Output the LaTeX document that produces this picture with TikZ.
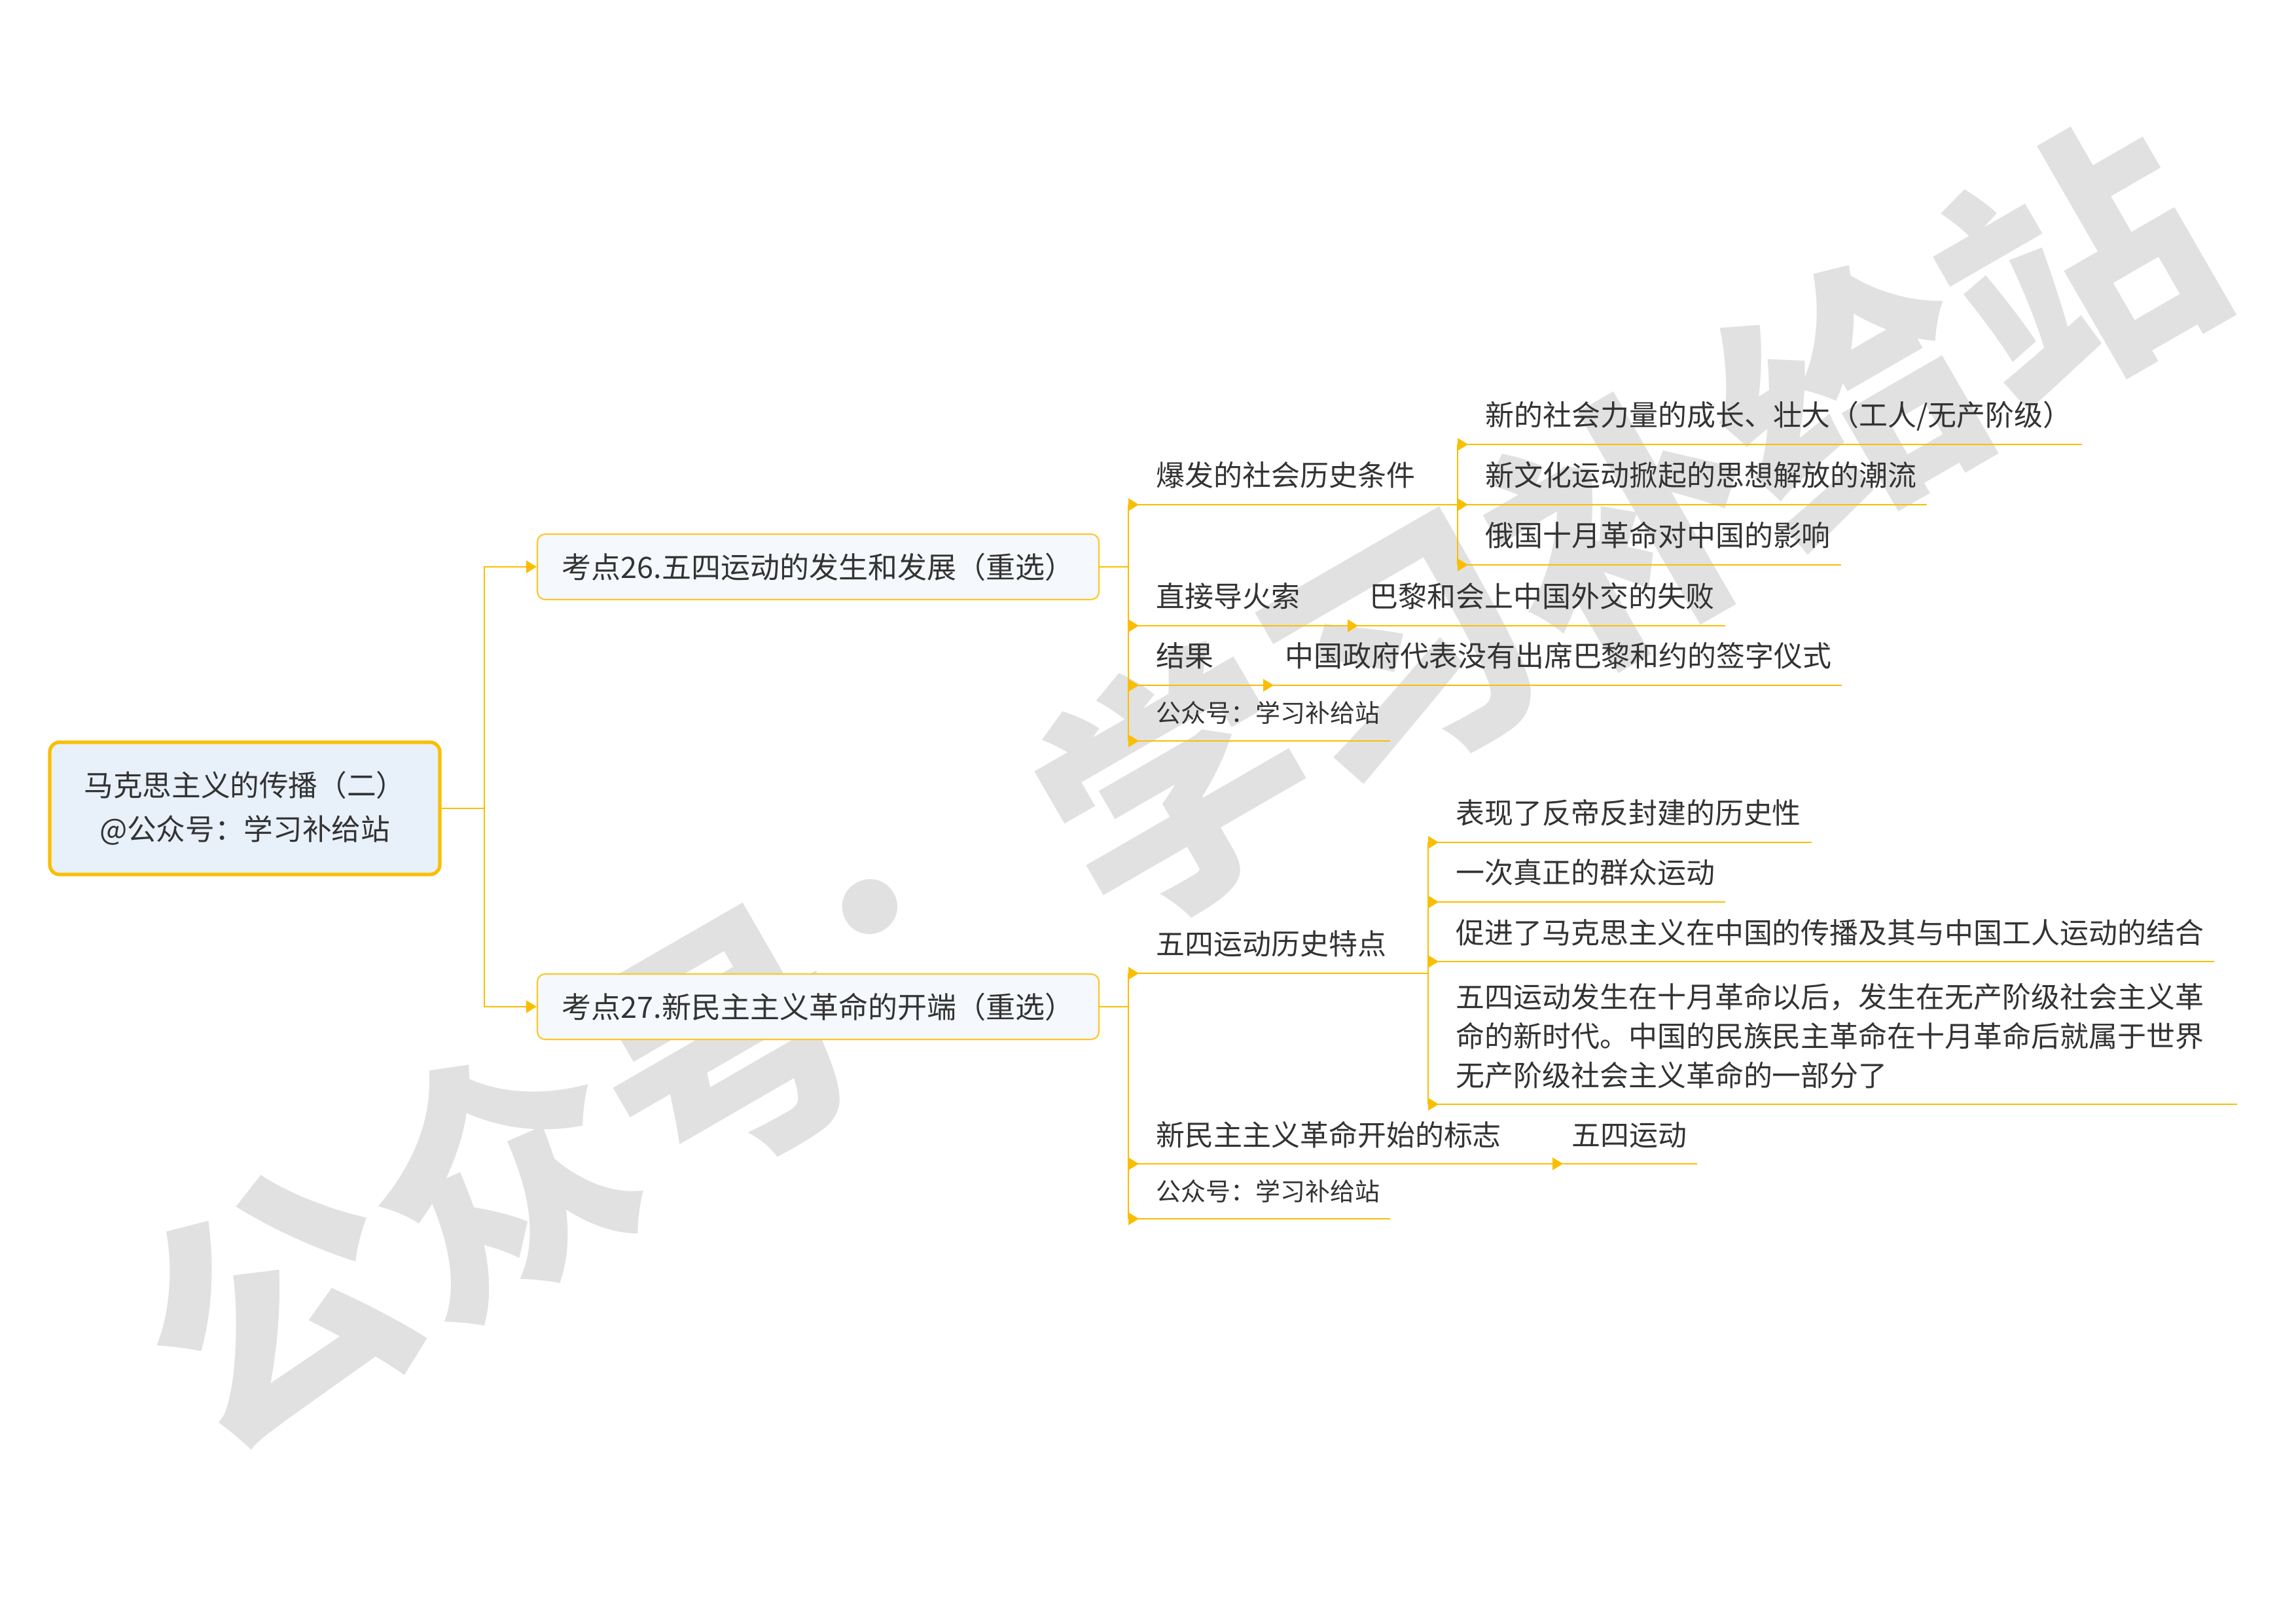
\documentclass[tikz,border=0pt]{standalone}
\usepackage{fontspec}
\setmainfont{Noto Sans CJK SC}
\usepackage{tikz}
\usetikzlibrary{arrows.meta,calc}
\definecolor{branch}{RGB}{250,190,0}
\definecolor{rootfill}{RGB}{232,240,250}
\definecolor{topfill}{RGB}{245,248,252}
\definecolor{markgray}{RGB}{225,225,225}
\definecolor{ink}{RGB}{51,51,51}

\begin{document}
\begin{tikzpicture}[
  font=\fontsize{12.5}{17}\selectfont, text=ink,
  link/.style={draw=branch, line width=0.6pt},
  tip/.style={link, {Triangle[reversed,length=0.16cm,width=0.19cm]}-},
  arrow/.style={link, -{Triangle[length=0.16cm,width=0.19cm]}},
  leaf/.style={anchor=south west, inner xsep=0pt, inner ysep=0.22cm, text depth=0.15em,
    execute at begin node=\hspace*{#1}, execute at end node=\hspace*{0.15cm}},
  leaf/.default=0.42cm,
  note/.style={leaf, font=\fontsize{10.8}{13}\selectfont},
  topic/.style={draw=branch!85, fill=topfill, line width=0.6pt, rounded corners=0.12cm,
    minimum width=8.58cm, minimum height=1.0cm, font=\fontsize{12.8}{14}\selectfont},
  root/.style={draw=branch, fill=rootfill, line width=1.5pt, rounded corners=0.15cm,
    minimum width=5.96cm, minimum height=2.02cm, align=center, font=\fontsize{12.7}{19}\selectfont},
  watermark/.style={text=markgray, rotate=30, font=\fontsize{113}{113}\selectfont\bfseries}]
\path[use as bounding box, fill=white] (0,0) rectangle (35.08,24.78);

% watermark
\node[watermark] (WM) at (17.95,12.78) {公众号：学习补给站};

% centre and the two topics
\node[root] (R) at (3.74,12.43) {马克思主义的传播（二）\\@公众号：学习补给站};
\node[topic] (T1) at (12.50,16.12) {考点26.五四运动的发生和发展（重选）};
\node[topic] (T2) at (12.50,9.40) {考点27.新民主主义革命的开端（重选）};
\draw[arrow] (R.east) -- ++(0.65,0) |- (T1.west);
\draw[arrow] (R.east) -- ++(0.65,0) |- (T2.west);

% topic 26
\node[leaf] (A) at (17.24,17.07) {爆发的社会历史条件};
\node[leaf] (A1) at (22.27,17.99) {新的社会力量的成长、壮大（工人/无产阶级）};
\node[leaf] (A2) at (22.27,17.07) {新文化运动掀起的思想解放的潮流};
\node[leaf] (A3) at (22.27,16.15) {俄国十月革命对中国的影响};
\node[leaf] (B) at (17.24,15.22) {直接导火索};
\node[leaf=0.33cm] (B1) at (20.59,15.22) {巴黎和会上中国外交的失败};
\node[leaf] (C) at (17.24,14.31) {结果};
\node[leaf=0.33cm] (C1) at (19.30,14.31) {中国政府代表没有出席巴黎和约的签字仪式};
\node[note] (D) at (17.24,13.46) {公众号：学习补给站};

\draw[link] (T1.east) -- (T1.east -| A.south west);
\draw[link] (A.south west) -- (D.south west);
\draw[tip] (A.south west) -- (A2.south west);
\draw[link] (A1.south west) -- (A3.south west);
\foreach \n in {A1,A2,A3,B1,C1,D}
  \draw[tip] (\n.south west) -- (\n.south east);
\draw[tip] (B.south west) -- (B1.south west);
\draw[tip] (C.south west) -- (C1.south west);

% topic 27
\node[leaf] (E) at (17.24,9.91) {五四运动历史特点};
\node[leaf] (E1) at (21.82,11.91) {表现了反帝反封建的历史性};
\node[leaf] (E2) at (21.82,11.00) {一次真正的群众运动};
\node[leaf] (E3) at (21.82,10.09) {促进了马克思主义在中国的传播及其与中国工人运动的结合};
\node[leaf] (E4) at (21.82,7.91) {\begin{tabular}[b]{@{}l@{}}五四运动发生在十月革命以后，发生在无产阶级社会主义革\\命的新时代。中国的民族民主革命在十月革命后就属于世界\\无产阶级社会主义革命的一部分了\end{tabular}};
\node[leaf] (F) at (17.24,7.00) {新民主主义革命开始的标志};
\node[leaf=0.29cm] (F1) at (23.72,7.00) {五四运动};
\node[note] (G) at (17.24,6.16) {公众号：学习补给站};

\draw[link] (T2.east) -- (T2.east -| E.south west);
\draw[link] (E.south west) -- (G.south west);
\draw[tip] (E.south west) -- (E.south west -| E1.south west);
\draw[link] (E1.south west) -- (E4.south west);
\foreach \n in {E1,E2,E3,F1,G}
  \draw[tip] (\n.south west) -- (\n.south east);
\draw[tip] (E4.south west) -- ([xshift=0.35cm]E4.south east);
\draw[tip] (F.south west) -- (F1.south west);
\end{tikzpicture}
\end{document}
